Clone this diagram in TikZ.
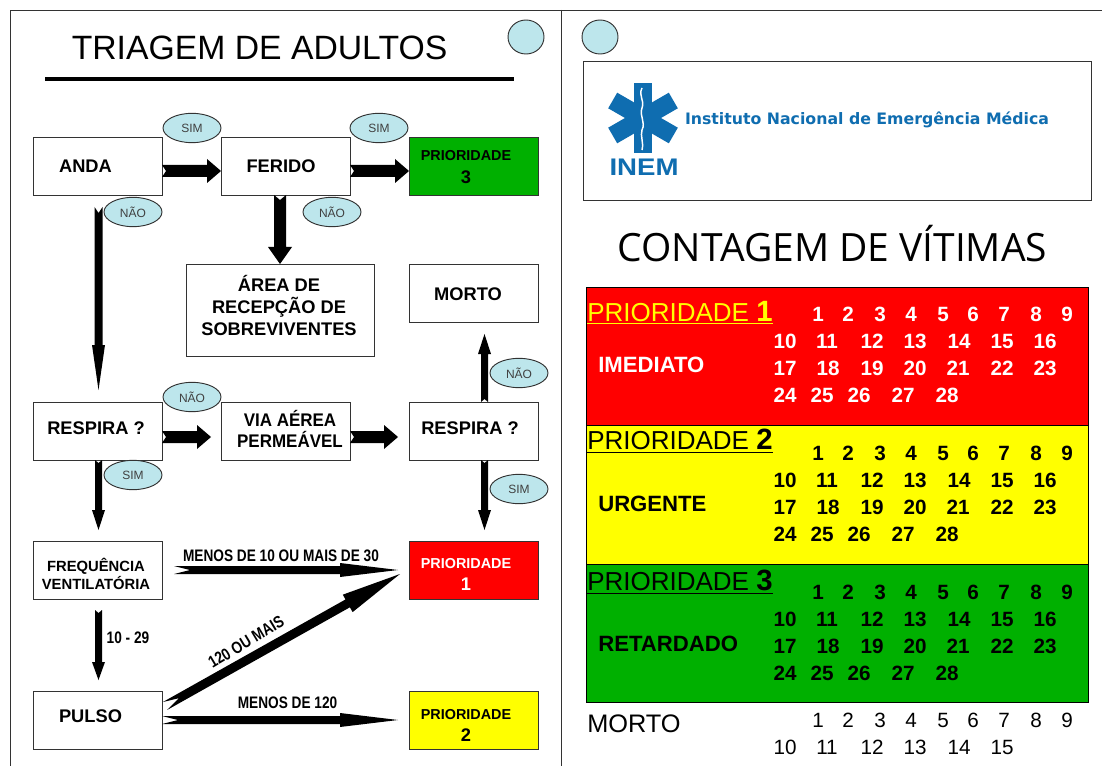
\documentclass[tikz,border=0pt]{standalone}
\usepackage{fontspec}
\usepackage{graphicx}
\setmainfont{Liberation Sans}
\newfontfamily\titlefont{Open Sans}
\newfontfamily\widefont{DejaVu Sans}
\usetikzlibrary{shapes.geometric,calc}
\definecolor{ballcol}{HTML}{BDE6EC}
\definecolor{inemblue}{HTML}{0F6DB0}
\definecolor{pgreen}{HTML}{00B000}
\definecolor{pred}{HTML}{FF0000}
\definecolor{pyellow}{HTML}{FFFF00}
\definecolor{framecol}{HTML}{333333}
\newcommand{\fsz}[1]{\fontsize{#1pt}{#1pt}\selectfont}
% block arrow: from, to, shaft half, head half, head length, notch
\newcommand{\blockarrow}[6]{%
  \coordinate (ba) at (#1);
  \coordinate (bb) at (#2);
  \coordinate (bn) at ($(bb)!#5*0.75pt!(ba)$);
  \fill[black] ($(ba)!#3*0.75pt!90:(bb)$) -- ($(ba)!#6*0.75pt!(bb)$) -- ($(ba)!#3*0.75pt!-90:(bb)$)
    -- ($(bn)!#3*0.75pt!90:(ba)$) -- ($(bn)!#4*0.75pt!90:(ba)$) -- (bb)
    -- ($(bn)!#4*0.75pt!-90:(ba)$) -- ($(bn)!#3*0.75pt!-90:(ba)$) -- cycle;
}
% count rows
\newcommand{\countrows}[6]{%
  \foreach \x/\t in {818/1,848/2,880/3,911/4,943/5,973/6,1004/7,1036/8,1067/9}
    \node[#6] (#1d\t) at (\x,#2) {\t};
  \foreach \x/\t in {785/10,827/11,872/12,915/13,959/14,1002/15,1045/16}
    \node[#6] (#1d\t) at (\x,#3) {\t};
  \foreach \x/\t in {785/17,828/18,872/19,915/20,958/21,1002/22,1045/23}
    \node[#6] (#1d\t) at (\x,#4) {\t};
  \foreach \x/\t in {785/24,822/25,859/26,903/27,947/28}
    \node[#6] (#1d\t) at (\x,#5) {\t};
}
\tikzset{
  flowbox/.style={draw=framecol,line width=0.6pt,fill=white,rectangle,inner sep=0pt,minimum width=96.75pt,minimum height=43.5pt},
  ball/.style={ellipse,draw=black!80,line width=0.7pt,fill=ballcol,inner sep=0pt},
  tag/.style={ball,minimum width=43.5pt,minimum height=22pt,font=\fsz{9},text=black!75},
  lbl/.style={font=\fsz{13.7}\bfseries,align=center,inner sep=0pt},
  plbl/.style={font=\fsz{10.8}\bfseries,align=center,inner sep=0pt},
  alabel/.style={font=\fsz{12.5}\bfseries,inner sep=0pt},
  num/.style={font=\fsz{15.5}\bfseries,inner sep=0pt},
  numw/.style={num,text=white},
  numr/.style={font=\fsz{15.5},inner sep=0pt},
  ptitle/.style={font=\fsz{19.5},anchor=west,inner sep=0pt},
  sublbl/.style={font=\fsz{16.6}\bfseries,anchor=west,inner sep=0pt},
  band/.style={draw=black,line width=0.7pt,rectangle,inner sep=0pt,minimum width=376.5pt,minimum height=104pt},
}
\begin{document}
\begin{tikzpicture}[x=0.75pt,y=-0.75pt]
\useasboundingbox (0,0) rectangle (1102,766);
\fill[white] (0,0) rectangle (1102,766);
% frame
\coordinate (fTL) at (10,10); \coordinate (fTR) at (1102,10); \coordinate (fBL) at (10,766);
\coordinate (fMT) at (561,10); \coordinate (fMB) at (561,766);
\draw[framecol,line width=0.7pt] (fBL) -- (fTL) -- (fTR);
\draw[framecol,line width=0.7pt] (fMT) -- (fMB);
% left title
\node[font=\fsz{25.3},inner sep=0pt] (ttl) at (259.5,48) {TRIAGEM DE ADULTOS};
\coordinate (rl) at (45,79); \coordinate (rr) at (514,79);
\draw[black,line width=3.6pt] (rl) -- (rr);
\node[ball,minimum width=27pt,minimum height=25.5pt] (bl1) at (526,37) {};
\node[ball,minimum width=27pt,minimum height=25.5pt] (bl2) at (600,37) {};
% boxes
\node[flowbox] (anda) at (97.5,166) {};
\node[flowbox] (ferido) at (285.5,166) {};
\node[flowbox,fill=pgreen] (p3) at (473.5,166) {};
\node[flowbox,minimum width=141pt,minimum height=69pt] (area) at (280,310) {};
\node[flowbox] (morto) at (473.5,293) {};
\node[flowbox] (resp) at (97.5,431) {};
\node[flowbox] (via) at (285.5,431) {};
\node[flowbox] (resp2) at (473.5,431) {};
\node[flowbox] (freq) at (97.5,570) {};
\node[flowbox,fill=pred] (p1) at (473.5,570) {};
\node[flowbox] (pulso) at (97.5,720) {};
\node[flowbox,fill=pyellow] (p2) at (473.5,720) {};
% box texts
\node[lbl] (tanda) at (85.5,166) {ANDA};
\node[lbl] (tferido) at (281,166) {FERIDO};
\node[plbl] (tp3a) at (466,156) {PRIORIDADE};
\node[lbl] (tp3b) at (466,177) {3};
\node[lbl,font=\fsz{13.7}\bfseries] (tarea) at (279,305.5) {ÁREA DE\\[2.6pt]RECEPÇÃO DE\\[2.6pt]SOBREVIVENTES};
\node[lbl] (tmorto) at (468,294) {MORTO};
\node[lbl] (tresp) at (96,428) {RESPIRA ?};
\node[lbl] (tvia) at (290,429) {\scalebox{.93}[1]{VIA AÉREA}\\[2pt]\scalebox{.93}[1]{PERMEÁVEL}};
\node[lbl] (tresp2) at (470,428) {RESPIRA ?};
\node[plbl,font=\fsz{11.1}\bfseries] (tfreq) at (96,573.5) {FREQUÊNCIA\\[0.5pt]VENTILATÓRIA};
\node[plbl,text=white] (tp1a) at (466,564) {PRIORIDADE};
\node[lbl,text=white] (tp1b) at (466,584) {1};
\node[lbl] (tpulso) at (90.5,716) {PULSO};
\node[plbl] (tp2a) at (466,715) {PRIORIDADE};
\node[lbl] (tp2b) at (466,735) {2};
% arrows
\coordinate (a1) at (162,171); \coordinate (a2) at (221,171);
\blockarrow{a1}{a2}{6}{12}{14}{4}
\coordinate (a3) at (350,171); \coordinate (a4) at (409,171);
\blockarrow{a3}{a4}{6}{12}{14}{4}
\coordinate (a5) at (98.5,207); \coordinate (a6) at (98.5,390);
\blockarrow{a5}{a6}{4}{6.5}{45}{6}
\coordinate (a7) at (280,195); \coordinate (a8) at (280,264);
\blockarrow{a7}{a8}{6}{12}{17}{5}
\coordinate (a9) at (162,437); \coordinate (a10) at (211,437);
\blockarrow{a9}{a10}{6}{12}{14}{4}
\coordinate (a11) at (350,437); \coordinate (a12) at (398,437);
\blockarrow{a11}{a12}{6}{12}{14}{4}
\coordinate (a13) at (484.5,402); \coordinate (a14) at (484.5,334);
\blockarrow{a13}{a14}{3.5}{6.5}{20}{3}
\coordinate (a15) at (484.5,460); \coordinate (a16) at (484.5,530);
\blockarrow{a15}{a16}{3.5}{6.5}{20}{3}
\coordinate (a17) at (98.5,460); \coordinate (a18) at (98.5,530);
\blockarrow{a17}{a18}{3.5}{6.5}{20}{3}
\coordinate (a19) at (98.5,610); \coordinate (a20) at (98.5,680);
\blockarrow{a19}{a20}{3.5}{6.5}{18}{3}
\coordinate (a21) at (174,570); \coordinate (a22) at (398,570);
\blockarrow{a21}{a22}{4}{7}{58}{16}
\coordinate (a23) at (162,720); \coordinate (a24) at (398,720);
\blockarrow{a23}{a24}{4}{7}{58}{16}
\coordinate (a25) at (165,706); \coordinate (a26) at (400,574);
\blockarrow{a25}{a26}{4.5}{10}{60}{16}
% arrow labels
\node[alabel] (l1) at (281,556) {\scalebox{.82}[1]{MENOS DE 10 OU MAIS DE 30}};
\node[alabel] (l2) at (287.5,703) {\scalebox{.82}[1]{MENOS DE 120}};
\node[alabel] (l3) at (128,638) {\scalebox{.82}[1]{10 - 29}};
\node[alabel,rotate=31] (l4) at (246,642) {\scalebox{.82}[1]{120 OU MAIS}};
% tags
\node[tag] (t1) at (192,128) {SIM};
\node[tag] (t2) at (379,128) {SIM};
\node[tag] (t3) at (133,212) {NÃO};
\node[tag] (t4) at (332,212) {NÃO};
\node[tag] (t5) at (519,373) {NÃO};
\node[tag] (t6) at (192,397) {NÃO};
\node[tag] (t7) at (133,475) {SIM};
\node[tag] (t8) at (519,489) {SIM};
% logo box
\node[draw=framecol,line width=0.6pt,rectangle,inner sep=0pt,minimum width=381pt,minimum height=104.25pt] (logo) at (837,130.5) {};
\foreach \a/\n in {0/a,60/b,120/c}
  \fill[inemblue,rotate around={\a:(643,118)}] (634,83) rectangle (652,153);
\draw[white,line width=1.1pt] (642,88) .. controls (638,96) and (645,100) .. (642,108) .. controls (639,116) and (646,122) .. (642,130) .. controls (640,136) and (644,142) .. (642,150);
\node[font=\fsz{18}\bfseries,text=inemblue,inner sep=0pt] (inem) at (644,167) {\scalebox{1.15}[1]{INEM}};
\node[font=\fsz{11}\widefont\bfseries,text=inemblue,inner sep=0pt] (inst) at (867,120) {\resizebox{273pt}{!}{Instituto Nacional de Emergência Médica}};
% right title
\node[font=\fsz{27}\titlefont,inner sep=0pt] (ctitle) at (832.5,244) {\resizebox{322pt}{!}{CONTAGEM DE VÍTIMAS}};
% bands
\node[band,fill=pred] (bred) at (837,356.5) {};
\node[band,fill=pyellow] (byel) at (837,495) {};
\node[band,fill=pgreen] (bgre) at (837,633.5) {};
\node[ptitle,text=pyellow] (hp1) at (587,313) {\underline{PRIORIDADE {\fsz{22}\bfseries 1}}};
\node[ptitle] (hp2) at (587,441) {\underline{PRIORIDADE {\fsz{22}\bfseries 2}}};
\node[ptitle] (hp3) at (587,582) {\underline{PRIORIDADE {\fsz{22}\bfseries 3}}};
\node[sublbl,text=white] (s1) at (598,365) {IMEDIATO};
\node[sublbl] (s2) at (598,504) {URGENTE};
\node[sublbl] (s3) at (598,644) {RETARDADO};
\countrows{r}{314}{341}{368}{395}{numw}
\countrows{y}{453}{480}{507}{534}{num}
\countrows{g}{592}{619}{646}{673}{num}
\node[ptitle,font=\fsz{19}] (hm) at (587,724) {MORTO};
\foreach \x/\t in {818/1,848/2,880/3,911/4,943/5,973/6,1004/7,1036/8,1067/9}
  \node[numr] (md\t) at (\x,720) {\t};
\foreach \x/\t in {785/10,827/11,872/12,915/13,959/14,1002/15}
  \node[numr] (md\t) at (\x,747) {\t};
\end{tikzpicture}
\end{document}
